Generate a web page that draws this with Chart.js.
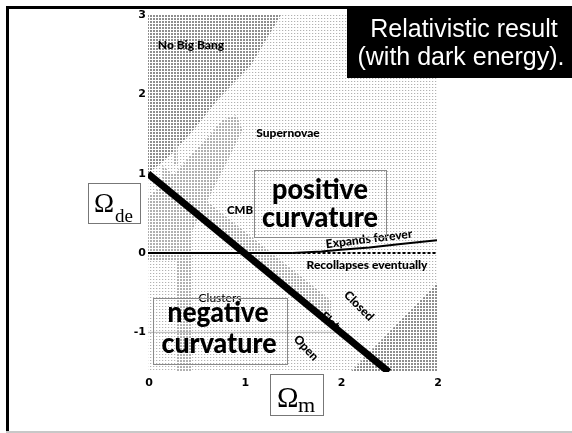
<!DOCTYPE html>
<html>
<head>
<meta charset="utf-8">
<script src="https://cdn.jsdelivr.net/npm/chart.js@4"></script>
<style>
  body { margin: 0; background: #fff; }
  canvas { display: block; }
</style>
</head>
<body>
<canvas id="omegaChart" width="572" height="433"></canvas>
<script>
// axis ticks
const xTicks = [0, 1, 2, 3];
const xTickLabels = ['0', '1', '2', '2'];
const yTicks = [3, 2, 1, 0, -1];
const yTickLabels = ['3', '2', '1', '0', '-1'];

// lines (Omega_m, Omega_de)
const flatLine = [[0, 1], [2.5, -1.5]];
const zeroSolid = [[0, 0], [1.5, 0]];
const zeroDashed = [[1.5, 0], [3, 0]];
const expandsCurve = [[1.5, 0], [1.8, 0.02], [2.0, 0.04], [2.3, 0.07], [2.6, 0.11], [3.0, 0.16]];
const minusOneLine = [[0, -1], [2, -1]];

// shaded regions
const noBigBang = [[0, 3], [1.38, 3], [1.06, 2.35], [0.72, 1.93], [0.5, 1.59], [0.25, 1.25], [0, 1.0]];
const supernovae = [[-0.1, 0.6], [0.2, 0.9], [0.5, 1.3], [0.78, 1.68], [0.92, 1.74], [0.98, 1.55], [0.8, 1.1], [0.55, 0.5], [0.3, -0.1], [-0.1, -0.1]];
const cmbBand = [[0.15, 1.1], [1.9, -0.6], [1.9, -0.95], [0.15, 0.8]];
const clusters = [[0.3, -1.5], [0.45, -1.5], [0.45, 0.6], [0.3, 0.6]];
const clusterStreak = [[0.27, 1.12], [0.31, 1.12], [0.31, 1.42], [0.27, 1.42]];
const closedCorner = [[2.1, -1.5], [3, -1.5], [3, -0.38]];

const ctx = document.getElementById('omegaChart').getContext('2d');

function makePattern(size, draw) {
    const c = document.createElement('canvas');
    c.width = size; c.height = size;
    const g = c.getContext('2d');
    g.fillStyle = '#fff';
    g.fillRect(0, 0, size, size);
    draw(g);
    return ctx.createPattern(c, 'repeat');
}

const baseDots = makePattern(3, g => {
    g.fillStyle = '#b2b2b2'; g.fillRect(0, 0, 1, 1);
    g.fillStyle = '#eeeeee'; g.fillRect(1, 0, 1, 1);
});
const denseDots = makePattern(3, g => {
    g.fillStyle = '#8e8e8e'; g.fillRect(0, 0, 2, 2);
});
const mediumDots = makePattern(3, g => {
    g.fillStyle = '#b0b0b0'; g.fillRect(0, 0, 2, 2);
});

const pts = arr => arr.map(p => ({ x: p[0], y: p[1] }));

function region(data, pattern) {
    return { data: pts(data), showLine: true, fill: 'shape', backgroundColor: pattern,
             borderWidth: 0, borderColor: 'transparent', pointRadius: 0 };
}
function line(data, width, extra) {
    return Object.assign({ data: pts(data), showLine: true, fill: false, borderColor: '#000',
             borderWidth: width, pointRadius: 0, borderCapStyle: 'butt' }, extra || {});
}

// first dataset is drawn on top
const datasets = [
    line(flatLine, 7),
    line(expandsCurve, 2),
    line(zeroDashed, 2, { borderDash: [3, 2] }),
    line(zeroSolid, 2),
    line(minusOneLine, 1, { borderColor: '#b4b4b4' }),
    region(closedCorner, denseDots),
    region(clusterStreak, mediumDots),
    region(clusters, mediumDots),
    region(cmbBand, mediumDots),
    region(supernovae, mediumDots),
    region(noBigBang, denseDots)
];

const labelFont = '900 12px Lato';
const textLabels = [
    { text: 'No Big Bang', x: 191, y: 45, w: 72, font: labelFont },
    { text: 'Supernovae', x: 288, y: 133, w: 69, font: labelFont },
    { text: 'CMB', x: 240, y: 210, w: 26, font: labelFont },
    { text: 'Expands forever', x: 369, y: 239, w: 95, font: labelFont, rot: -7 },
    { text: 'Recollapses eventually', x: 367, y: 265, w: 134, font: labelFont },
    { text: 'Clusters', x: 220, y: 298, w: 46, font: '12px Lato' },
    { text: 'Closed', x: 359, y: 306, w: 44, font: labelFont, rot: 45 },
    { text: 'Open', x: 306, y: 348, w: 34, font: labelFont, rot: 47 }
];

const decorations = {
    id: 'decorations',
    beforeDraw(chart) {
        const c = chart.ctx, a = chart.chartArea;
        c.save();
        c.fillStyle = '#fff';
        c.fillRect(0, 0, chart.width, chart.height);
        c.fillStyle = baseDots;
        c.fillRect(a.left, a.top, a.right - a.left, a.bottom - a.top);
        // slide frame
        c.fillStyle = '#000';
        c.fillRect(6, 6, chart.width - 6, 3);
        c.fillRect(6, 6, 3, chart.height - 6);
        c.fillStyle = '#c8c8c8';
        c.fillRect(6, chart.height - 2, chart.width - 6, 2);
        c.restore();
    },
    beforeDatasetDraw(chart, args) {
        if (args.index !== 0) return;
        const c = chart.ctx;
        c.save();
        c.translate(330, 321);
        c.rotate(39.5 * Math.PI / 180);
        c.font = labelFont;
        c.fillStyle = '#000';
        c.textAlign = 'center';
        c.textBaseline = 'middle';
        c.fillText('Flat', 0, 0);
        c.restore();
    },
    afterDraw(chart) {
        const c = chart.ctx;
        const xs = chart.scales.x, ys = chart.scales.y;
        c.save();
        c.fillStyle = '#000';
        c.font = 'bold 11px "DejaVu Sans"';
        c.textBaseline = 'middle';
        c.textAlign = 'right';
        yTicks.forEach((v, i) => c.fillText(yTickLabels[i], 146, ys.getPixelForValue(v)));
        c.textAlign = 'center';
        xTicks.forEach((v, i) => c.fillText(xTickLabels[i], xs.getPixelForValue(v) + 1, 383));

        textLabels.forEach(l => {
            c.save();
            c.translate(l.x, l.y);
            if (l.rot) c.rotate(l.rot * Math.PI / 180);
            c.font = l.font;
            c.textAlign = 'center';
            c.textBaseline = 'middle';
            c.fillText(l.text, 0, 0, l.w);
            c.restore();
        });

        // curvature boxes
        c.strokeStyle = '#8a8a8a';
        c.lineWidth = 1;
        c.strokeRect(254.5, 170.5, 132, 67);
        c.strokeRect(153.5, 298.5, 134, 66);
        c.font = '900 29px Lato';
        c.textBaseline = 'alphabetic';
        c.fillText('positive', 320, 199, 96);
        c.fillText('curvature', 320, 227, 116);
        c.fillText('negative', 218, 322, 101);
        c.fillText('curvature', 219, 353, 115);

        // axis title boxes
        c.fillStyle = '#fff';
        c.fillRect(88, 183, 52, 40);
        c.fillRect(270, 374, 53, 41);
        c.strokeStyle = '#777';
        c.strokeRect(88.5, 183.5, 52, 40);
        c.strokeRect(270.5, 374.5, 53, 41);
        c.fillStyle = '#000';
        c.textAlign = 'left';
        c.font = '27px "Liberation Serif"';
        c.fillText('\u03A9', 94, 212);
        c.font = '19px "Liberation Serif"';
        c.fillText('de', 115, 222);
        c.font = '29px "Liberation Serif"';
        c.fillText('\u03A9', 277, 407);
        c.font = '22px "Liberation Serif"';
        c.fillText('m', 298, 412);

        // title box
        c.fillStyle = '#000';
        c.fillRect(347, 8, 225, 70);
        c.fillStyle = '#fff';
        c.textAlign = 'center';
        c.font = '25px "Liberation Sans"';
        c.fillText('Relativistic result', 464, 37, 192);
        c.fillText('(with dark energy).', 461, 65, 213);
        c.restore();
    }
};

new Chart(ctx, {
    type: 'scatter',
    data: { datasets: datasets },
    options: {
        responsive: false,
        animation: false,
        layout: { padding: { left: 148, right: 135, top: 15, bottom: 61 } },
        scales: {
            x: { type: 'linear', min: 0, max: 3, display: false },
            y: { type: 'linear', min: -1.5, max: 3, display: false }
        },
        plugins: { legend: { display: false }, tooltip: { enabled: false } }
    },
    plugins: [decorations]
});
</script>
</body>
</html>
